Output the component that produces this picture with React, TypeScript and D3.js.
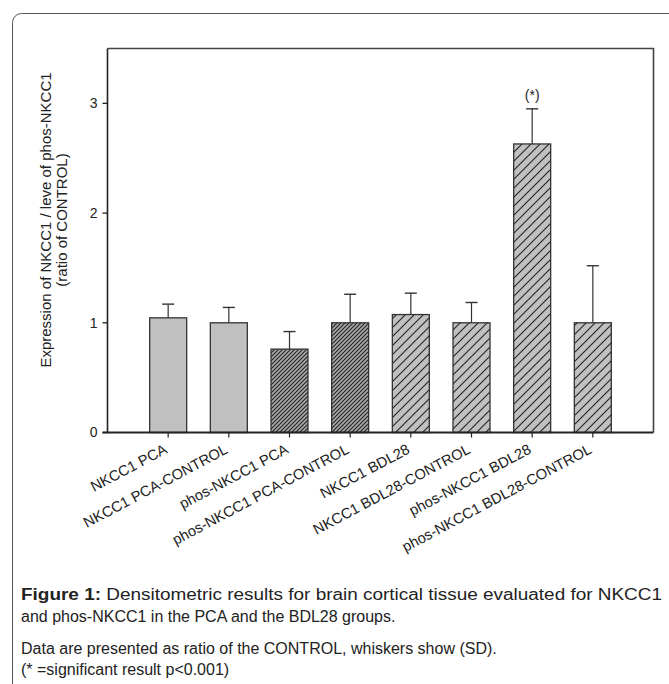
import React from "react";
import * as d3 from "d3";

const categories = [
  "NKCC1 PCA",
  "NKCC1 PCA-CONTROL",
  "phos-NKCC1 PCA",
  "phos-NKCC1 PCA-CONTROL",
  "NKCC1 BDL28",
  "NKCC1 BDL28-CONTROL",
  "phos-NKCC1 BDL28",
  "phos-NKCC1 BDL28-CONTROL",
];
const means = [1.045, 1.0, 0.76, 1.0, 1.075, 1.0, 2.63, 1.0];
const sds = [0.125, 0.14, 0.16, 0.26, 0.195, 0.185, 0.32, 0.52];
const patterns = ["solid", "solid", "dense", "dense", "sparse", "sparse", "sparse", "sparse"];
const yTicks = [0, 1, 2, 3];
const significant = [false, false, false, false, false, false, true, false];

const W = 669;
const H = 684;
const left = 107.5;
const right = 653.5;
const top = 48.5;
const bottom = 432.5;

export default function App() {
  const x = d3.scalePoint<string>().domain(categories).range([left, right]).padding(1);
  const y = d3.scaleLinear().domain([0, 3.5]).range([bottom, top]);
  const barW = 37;
  const capW = 12;
  const font = "Arial, 'Liberation Sans', sans-serif";
  const fillFor = (p: string) =>
    p === "solid" ? "#c0c0c0" : p === "dense" ? "url(#dense)" : "url(#sparse)";

  return (
    <svg
      width={W}
      height={H}
      style={{ position: "absolute", left: 0, top: 0, background: "#fff" }}
      fontFamily={font}
    >
      <defs>
        <pattern id="dense" patternUnits="userSpaceOnUse" width={4} height={4}>
          <rect width={4} height={4} fill="#a8a8a8" />
          <path d="M-1,1 L1,-1 M0,4 L4,0 M3,5 L5,3" stroke="#222" strokeWidth={1.1} />
        </pattern>
        <pattern id="sparse" patternUnits="userSpaceOnUse" width={9} height={9}>
          <rect width={9} height={9} fill="#c0c0c0" />
          <path d="M-1,1 L1,-1 M0,9 L9,0 M8,10 L10,8" stroke="#222" strokeWidth={1.1} />
        </pattern>
      </defs>

      {/* outer rounded frame */}
      <rect x={12.5} y={13.5} width={700} height={760} rx={9} fill="none" stroke="#555" strokeWidth={1} />

      {/* plot frame top/right */}
      <path d={`M${left},${top} H${right} V${bottom}`} fill="none" stroke="#444" strokeWidth={1.6} />

      {/* bars */}
      {categories.map((c, i) => {
        const cx = x(c)!;
        const yTop = y(means[i]);
        const yErr = y(means[i] + sds[i]);
        return (
          <g key={c}>
            <line x1={cx} x2={cx} y1={yTop} y2={yErr} stroke="#333" strokeWidth={1.2} />
            <line x1={cx - capW / 2} x2={cx + capW / 2} y1={yErr} y2={yErr} stroke="#333" strokeWidth={1.4} />
            <rect
              x={cx - barW / 2}
              y={yTop}
              width={barW}
              height={bottom - yTop}
              fill={fillFor(patterns[i])}
              stroke="#333"
              strokeWidth={1.3}
            />
            {significant[i] && (
              <text x={cx} y={yErr - 9} textAnchor="middle" fontSize={14} fill="#222">
                (*)
              </text>
            )}
          </g>
        );
      })}

      {/* axes */}
      <line x1={left} x2={left} y1={top} y2={bottom} stroke="#222" strokeWidth={1.6} />
      <line x1={left - 5} x2={right} y1={bottom} y2={bottom} stroke="#222" strokeWidth={1.8} />
      {yTicks.map((t) => (
        <g key={t}>
          <line x1={left - 5} x2={left} y1={y(t)} y2={y(t)} stroke="#222" strokeWidth={1.3} />
          <text x={left - 10} y={y(t)} dy="0.35em" textAnchor="end" fontSize={14} fill="#222">
            {t}
          </text>
        </g>
      ))}
      {categories.map((c) => {
        const cx = x(c)!;
        return (
          <g key={"t" + c}>
            <line x1={cx} x2={cx} y1={bottom} y2={bottom + 5} stroke="#222" strokeWidth={1.2} />
            <text
              transform={`translate(${cx},${bottom + 20}) rotate(-28)`}
              textAnchor="end"
              fontSize={14.7}
              fill="#222"
            >
              {c}
            </text>
          </g>
        );
      })}

      {/* y axis title */}
      <g transform="translate(51,220) rotate(-90)">
        <text textAnchor="middle" fontSize={15} fill="#222">
          Expression of NKCC1 / leve of phos-NKCC1
        </text>
        <text y={16} textAnchor="middle" fontSize={15} fill="#222">
          (ratio of CONTROL)
        </text>
      </g>

      {/* caption */}
      <g fontSize={16} fill="#222">
        <text x={21} y={600} textLength={641} lengthAdjust="spacingAndGlyphs">
          <tspan fontWeight="bold">Figure 1:</tspan> Densitometric results for brain cortical tissue evaluated for NKCC1
        </text>
        <text x={21} y={622}>and phos-NKCC1 in the PCA and the BDL28 groups.</text>
        <text x={21} y={654}>Data are presented as ratio of the CONTROL, whiskers show (SD).</text>
        <text x={21} y={675}>(* =significant result p&lt;0.001)</text>
      </g>
    </svg>
  );
}
